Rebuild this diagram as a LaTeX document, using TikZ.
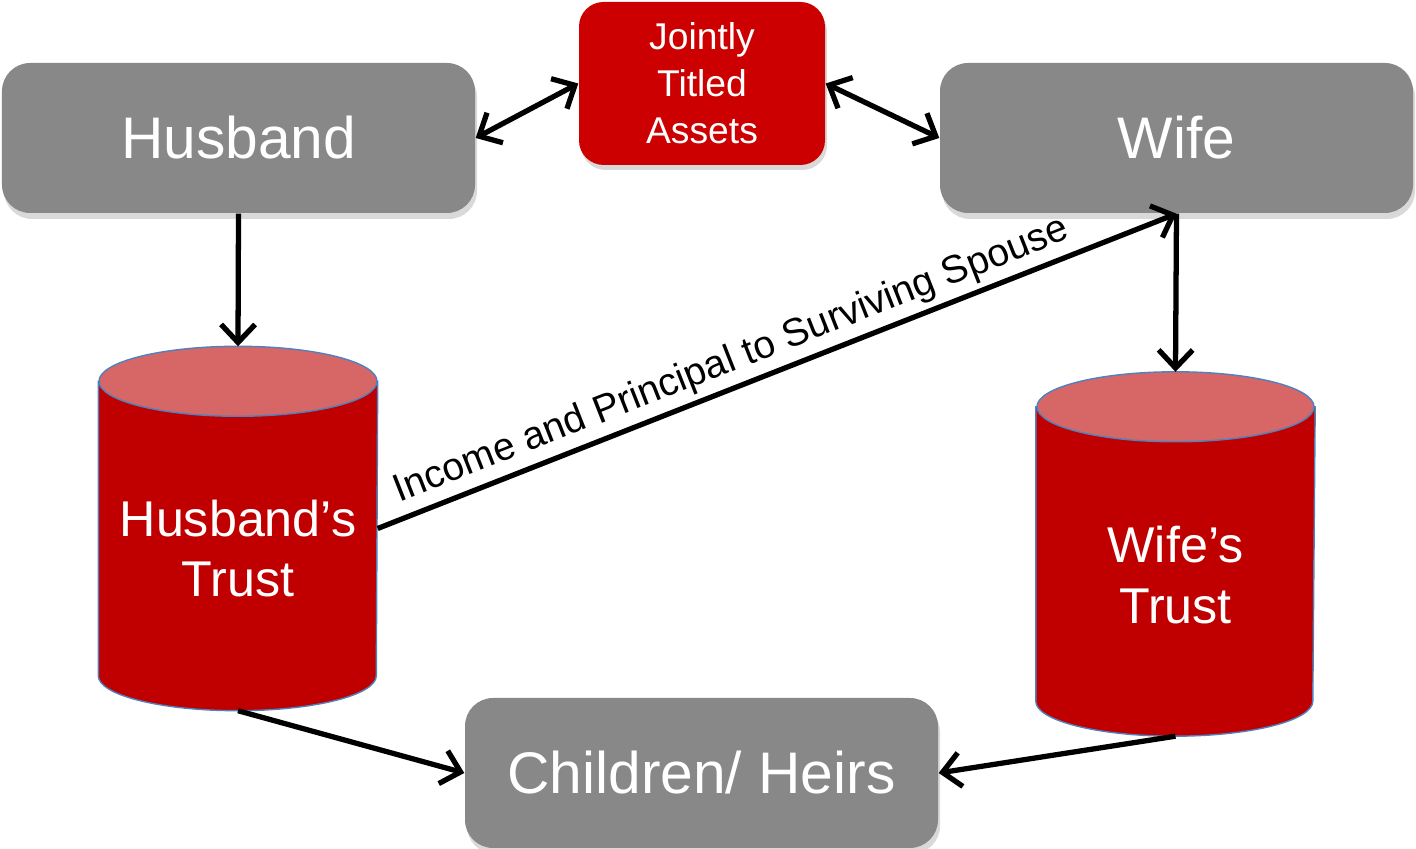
\documentclass[tikz,border=0pt]{standalone}
\usepackage{fontspec}
\setmainfont{Liberation Sans}
\usepackage{tikz}
\usetikzlibrary{arrows.meta,shadows,calc}

\definecolor{boxgray}{HTML}{888888}
\definecolor{jointred}{HTML}{CC0000}
\definecolor{trustred}{HTML}{C00000}
\definecolor{trusttop}{HTML}{D76666}
\definecolor{rimblue}{HTML}{4F81BD}

\tikzset{
	person/.style = {fill=boxgray, rounded corners=8pt, minimum width=4.73cm, minimum height=1.5cm,
		text=white, font=\fontsize{16.7}{20}\selectfont,
		drop shadow={shadow xshift=.2mm, shadow yshift=-.6mm, opacity=.3}},
	joint/.style = {fill=jointred, rounded corners=7pt, minimum width=2.46cm, minimum height=1.63cm,
		text=white, align=center, font=\fontsize{10.6}{13.4}\selectfont,
		drop shadow={shadow xshift=.2mm, shadow yshift=-.5mm, opacity=.3}},
	trust/.style = {minimum width=2.78cm, minimum height=3.63cm, inner sep=0pt},
	trusttext/.style = {text=white, align=center, font=\fontsize{14.3}{17.3}\selectfont},
	flow/.style = {line width=1.5pt, -{Straight Barb[length=1.8mm,width=3.4mm]}},
	twoway/.style = {line width=1.5pt, {Straight Barb[length=1.8mm,width=3.4mm]}-{Straight Barb[length=1.8mm,width=3.4mm]}},
}

\begin{document}
\begin{tikzpicture}
	\useasboundingbox (0,0) rectangle (14.16,8.49);

	% boxes
	\node[person] (husband) at (2.385,7.11) {Husband};
	\node[person] (wife) at (11.765,7.11) {Wife};
	\node[joint] (joint) at (7.02,7.655) {Jointly\\Titled\\Assets};
	\node[person] (children) at (7.015,.76) {Children/ Heirs};

	% trusts
	\node[trust] (htrust) at (2.38,3.205) {};
	\node[trust] (wtrust) at (11.755,2.95) {};
	\begin{scope}[draw=rimblue, line width=.4pt]
		\filldraw[fill=trustred] ([yshift=-3.5mm]htrust.north west) -- ([yshift=3.5mm]htrust.south west)
			arc (180:360:1.39 and .35) -- ([yshift=-3.5mm]htrust.north east) -- cycle;
		\filldraw[fill=trusttop] ([yshift=-3.5mm]htrust.north) ellipse (1.39 and .35);
		\filldraw[fill=trustred] ([yshift=-3.5mm]wtrust.north west) -- ([yshift=3.5mm]wtrust.south west)
			arc (180:360:1.385 and .35) -- ([yshift=-3.5mm]wtrust.north east) -- cycle;
		\filldraw[fill=trusttop] ([yshift=-3.5mm]wtrust.north) ellipse (1.385 and .35);
	\end{scope}
	\node[trusttext] (htrusttext) at ([yshift=-2mm]htrust.center) {Husband’s\\Trust};
	\node[trusttext] (wtrusttext) at ([yshift=-2.1mm]wtrust.center) {Wife’s\\Trust};

	% arrows
	\draw[twoway] (husband.east) -- (joint.west);
	\draw[twoway] (joint.east) -- (wife.west);
	\draw[flow] (husband.south) -- (htrust.north);
	\draw[flow] (wife.south) -- (wtrust.north);
	\draw[flow] (htrust.east) -- node[sloped, above, pos=.455, inner sep=1.5pt, font=\fontsize{11.1}{13}\selectfont] (spouse) {Income and Principal to Surviving Spouse} (wife.south);
	\draw[flow] (htrust.south) -- (children.west);
	\draw[flow] (wtrust.south) -- (children.east);
\end{tikzpicture}
\end{document}
